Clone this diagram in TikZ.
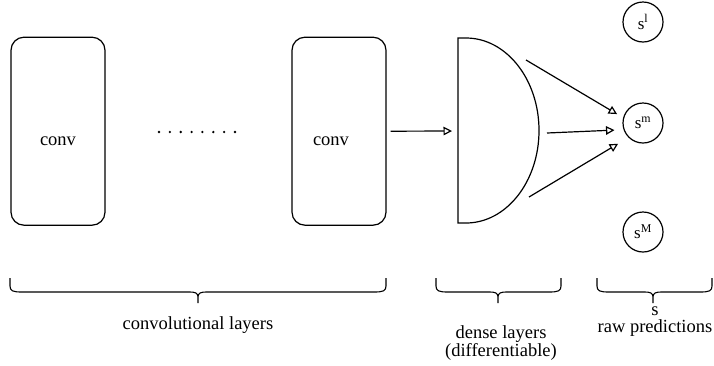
\documentclass[tikz,border=0pt]{standalone}
\usepackage{fontspec}
\setmainfont{Liberation Serif}
\usetikzlibrary{arrows.meta}

% horizontal curly brace: left end, right end, tip position
\newcommand\bracketspan[3]{%
  \draw[bracestyle] (#1,278) -- (#1,286)
    .. controls (#1,291) and (#1+3,292) .. (#1+12,292) -- (#3-8,292)
    .. controls (#3-3,292) and (#3,293) .. (#3,297) -- (#3,303)
    (#3,297) .. controls (#3,293) and (#3+3,292) .. (#3+8,292) -- (#2-12,292)
    .. controls (#2-3,292) and (#2,291) .. (#2,286) -- (#2,278);}

\begin{document}
\begin{tikzpicture}[x=1pt, y=-1pt, line width=1.2pt,
  font=\fontsize{18.5}{21}\selectfont,
  convbox/.style={draw, rounded corners=13pt, minimum width=94pt,
    minimum height=188pt, inner sep=0pt},
  outcircle/.style={draw, circle, minimum size=40pt, inner sep=0pt,
    font=\fontsize{17}{19}\selectfont},
  flow/.style={-{Triangle[open,length=8.5pt,width=8.5pt]}},
  caption/.style={font=\fontsize{18.5}{17}\selectfont, align=center, inner sep=0pt},
  bracestyle/.style={line width=1.1pt, line join=round}
]
\useasboundingbox (0,0) rectangle (714,365);

% convolutional blocks
\node[convbox, label={[yshift=-10pt]center:conv}] (c1) at (58,131.2) {};
\node[convbox, label={[xshift=-8pt,yshift=-10pt]center:conv}] (c2) at (339,131.2) {};

% ellipsis between the blocks
\foreach \i in {0,...,7}
  \fill (159+\i*10.86,132) circle (1.3pt);

% dense layers (D-shaped block); y axis points down, so angle 90 is the bottom
\draw (458,38) -- (458,223) -- (466,223)
  arc[start angle=90, end angle=-90, x radius=73, y radius=92.5] -- cycle;
\coordinate (densein) at (458,131);
\coordinate (dense-a) at (526,60);
\coordinate (dense-b) at (547,133);
\coordinate (dense-c) at (529,197);

% output scores
\node[outcircle] (sl) at (643,22) {s\textsuperscript{l}};
\node[outcircle] (sm) at (643,123) {s\textsuperscript{m}};
\node[outcircle] (sM) at (643,232) {s\textsuperscript{M}};

% connections
\draw[flow, shorten <=4pt, shorten >=6pt] (c2.east) -- (densein);
\draw[flow, shorten >=7pt] (dense-a) -- (sm.165);
\draw[flow, shorten >=9pt] (dense-b) -- (sm.199);
\draw[flow, shorten >=12pt] (dense-c) -- (sm.225);

% grouping braces
\bracketspan{10}{386}{198}
\bracketspan{436}{561}{498}
\bracketspan{597}{712}{653}

% captions
\node[caption] (convlbl) at (198,325) {convolutional layers};
\node[caption] (denselbl) at (501,343.5) {dense layers\\(differentiable)};
\node[caption] (rawlbl) at (655,322) {s\\raw predictions};
\end{tikzpicture}
\end{document}
